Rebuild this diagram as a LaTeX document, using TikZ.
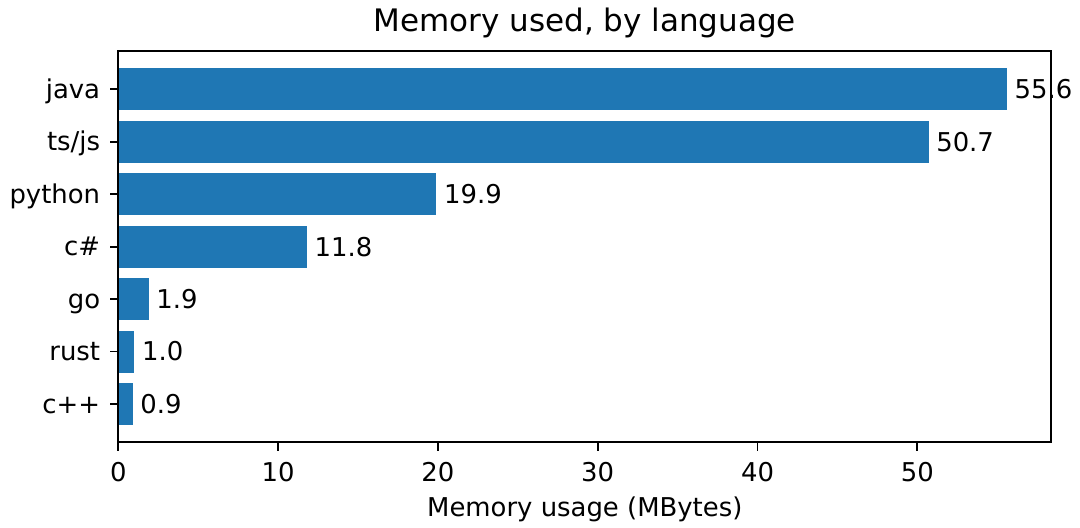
\documentclass[tikz,border=0pt]{standalone}
\usepackage{fontspec}
\setmainfont{DejaVu Sans}
\definecolor{barblue}{HTML}{1F77B4}
\begin{document}
\begin{tikzpicture}[x=0.5pt,y=-0.5pt,
  spine/.style={line width=0.95pt,line cap=rect},
  tickline/.style={line width=0.95pt},
  ticklab/.style={font=\fontsize{12.95pt}{15pt}\selectfont,inner sep=0pt},
  barval/.style={font=\fontsize{12.95pt}{15pt}\selectfont,inner sep=0pt,anchor=west},
  bar/.style={fill=barblue,draw=none}]
\useasboundingbox (0,0) rectangle (1080,528);
\def\xl{118.3}\def\xr{1051.3}\def\yt{50.7}\def\yb{442.3}
\def\ppu{15.98}
% bars
\foreach \v [count=\i from 0] in {55.6,50.7,19.9,11.8,1.9,1.0,0.9}{
  \pgfmathsetmacro{\yc}{89.3+52.45*\i}
  \pgfmathsetmacro{\xe}{\xl+\ppu*\v}
  \fill[bar] (\xl,\yc-20.98) rectangle (\xe,\yc+20.98);
}
% spines
\draw[spine] (\xl,\yt) rectangle (\xr,\yb);
% y ticks, labels and bar values
\foreach \v/\lab [count=\i from 0] in {55.6/java,50.7/ts\slash js,19.9/python,11.8/c\#,1.9/go,1.0/rust,0.9/c++}{
  \pgfmathsetmacro{\yc}{89.3+52.45*\i}
  \pgfmathsetmacro{\xe}{\xl+\ppu*\v}
  \node[barval] (val\i) at (\xe+7.4,\yc) {\v};
  \draw[tickline] (\xl,\yc) -- ++(-8.3,0);
  \node[ticklab,anchor=base east] (ylab\i) at (100.5,\yc+9.2) {\lab};
}
% x ticks
\foreach \t in {0,10,20,30,40,50}{
  \pgfmathsetmacro{\xt}{\xl+\ppu*\t}
  \draw[tickline] (\xt,\yb) -- ++(0,8.3);
  \node[ticklab,anchor=base] (xt\t) at (\xt,481.7) {\t};
}
\node[ticklab,anchor=base] (xlabel) at (584.8,516.7) {Memory usage (MBytes)};
\node[inner sep=0pt,anchor=base,font=\fontsize{15.5pt}{18pt}\selectfont] (title) at (584.8,32) {Memory used, by language};
\end{tikzpicture}
\end{document}
